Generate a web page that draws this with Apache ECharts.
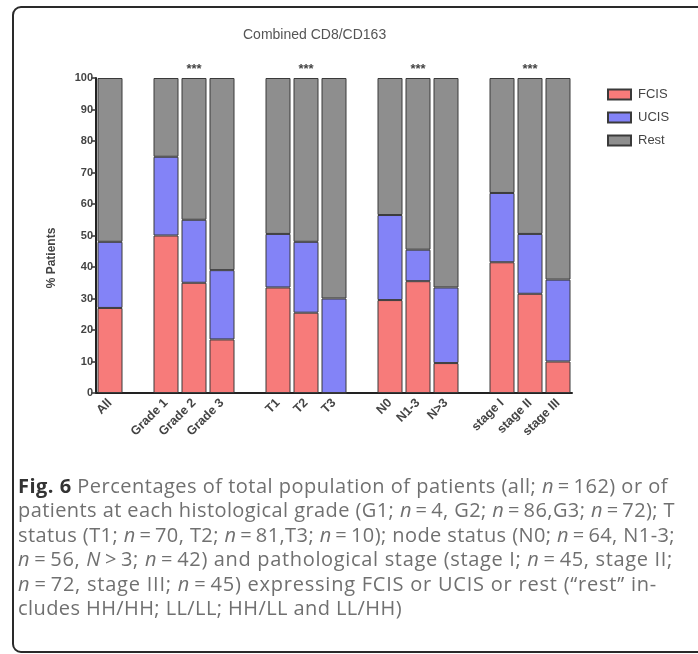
<!DOCTYPE html>
<html>
<head>
<meta charset="utf-8">
<script src="https://cdn.jsdelivr.net/npm/echarts@6/dist/echarts.min.js"></script>
<style>
  html, body { margin: 0; padding: 0; background: #fff; }
  #wrap { position: relative; width: 698px; height: 654px; overflow: hidden; background: #fff; }
  #frame { position: absolute; left: 12px; top: 6px; width: 760px; height: 647px; border: 2.5px solid #2a2a2a; border-radius: 9px; box-sizing: border-box; }
  #chart { position: absolute; left: 0; top: 0; width: 698px; height: 654px; }
  #caption { position: absolute; left: 18px; top: 474px; font-family: "Open Sans", sans-serif; font-size: 20px; color: #707070; }
  #caption div { height: 24.4px; line-height: 24.4px; white-space: nowrap; }
  #caption b { color: #333; }
</style>
</head>
<body>
<div id="wrap">
  <div id="frame"></div>
  <div id="chart"></div>
  <div id="caption">
    <div data-w="650"><b>Fig. 6</b> Percentages of total population of patients (all; <i>n</i>&#8201;=&#8201;162) or of</div>
    <div data-w="657">patients at each histological grade (G1; <i>n</i>&#8201;=&#8201;4, G2; <i>n</i>&#8201;=&#8201;86,G3; <i>n</i>&#8201;=&#8201;72); T</div>
    <div data-w="657">status (T1; <i>n</i>&#8201;=&#8201;70, T2; <i>n</i>&#8201;=&#8201;81,T3; <i>n</i>&#8201;=&#8201;10); node status (N0; <i>n</i>&#8201;=&#8201;64, N1-3;</div>
    <div data-w="655"><i>n</i>&#8201;=&#8201;56, <i>N</i>&#8201;&gt;&#8201;3; <i>n</i>&#8201;=&#8201;42) and pathological stage (stage I; <i>n</i>&#8201;=&#8201;45, stage II;</div>
    <div data-w="639"><i>n</i>&#8201;=&#8201;72, stage III; <i>n</i>&#8201;=&#8201;45) expressing FCIS or UCIS or rest (“rest” in-</div>
    <div data-w="384">cludes HH/HH; LL/LL; HH/LL and LL/HH)</div>
  </div>
</div>
<script>
const categories = ['All', '', 'Grade 1', 'Grade 2', 'Grade 3', '', 'T1', 'T2', 'T3', '', 'N0', 'N1-3', 'N>3', '', 'stage I', 'stage II', 'stage III'];
const fcis = [27, null, 50, 35, 17, null, 33.5, 25.5, 0, null, 29.5, 35.5, 9.5, null, 41.5, 31.5, 10];
const ucis = [21, null, 25, 20, 22, null, 17, 22.5, 30, null, 27, 10, 24, null, 22, 19, 26];
const rest = [52, null, 25, 45, 61, null, 49.5, 52, 70, null, 43.5, 54.5, 66.5, null, 36.5, 49.5, 64];
const stars = ['', '', '', '***', '', '', '', '***', '', '', '', '***', '', '', '', '***', ''];
const yTicks = { min: 0, max: 100, interval: 10 };

// fit caption lines to their measured widths in the reference
document.querySelectorAll('#caption div').forEach(d => {
  const target = +d.dataset.w;
  d.style.display = 'inline-block';
  const nat = d.getBoundingClientRect().width;
  const n = d.textContent.length;
  d.style.letterSpacing = ((target - nat) / n) + 'px';
  d.style.display = 'block';
});

const chart = echarts.init(document.getElementById('chart'), null, { renderer: 'canvas' });
const font = 'Liberation Sans, Arial, sans-serif';
const border = { borderColor: '#3a3a3a', borderWidth: 1 };

const restData = rest.map((v, i) => stars[i] ? {
  value: v,
  label: { show: true, position: 'top', distance: 2, formatter: stars[i], fontSize: 13, fontWeight: 'bold', color: '#444', fontFamily: font }
} : v);

chart.setOption({
  animation: false,
  title: {
    text: 'Combined CD8/CD163', left: 238, top: 23,
    textStyle: { fontSize: 14, fontWeight: 'normal', color: '#555', fontFamily: font }
  },
  legend: {
    orient: 'vertical', left: 607, top: 88, padding: 0, itemWidth: 23, itemHeight: 10, itemGap: 10,
    icon: 'rect',
    textStyle: { fontSize: 13, color: '#444', fontFamily: font, padding: [0, 0, 0, 2] },
    data: ['FCIS', 'UCIS', 'Rest']
  },
  grid: { left: 96, top: 78, width: 476, height: 315, containLabel: false },
  xAxis: {
    type: 'category', data: categories,
    axisLine: { lineStyle: { color: '#222', width: 2 } },
    axisTick: { alignWithLabel: true, interval: 0, length: 5, lineStyle: { color: '#333', width: 1.5 } },
    axisLabel: { interval: 0, rotate: 45, fontSize: 12.5, fontWeight: 'bold', color: '#444', fontFamily: font, margin: 8 }
  },
  yAxis: {
    type: 'value', min: yTicks.min, max: yTicks.max, interval: yTicks.interval,
    axisLine: { show: true, lineStyle: { color: '#222', width: 2 } },
    axisTick: { show: true, length: 5, lineStyle: { color: '#333', width: 1.5 } },
    axisLabel: { fontSize: 11, fontWeight: 'bold', color: '#444', fontFamily: font, margin: 3 },
    splitLine: { show: false }
  },
  graphic: [{
    type: 'text', x: 52, y: 258, rotation: Math.PI / 2,
    style: { text: '% Patients', font: 'bold 12px ' + font, fill: '#444', align: 'center', verticalAlign: 'middle' }
  }],
  series: [
    { name: 'FCIS', type: 'bar', stack: 's', barWidth: 25, data: fcis, itemStyle: Object.assign({ color: '#F77B7A' }, border) },
    { name: 'UCIS', type: 'bar', stack: 's', barWidth: 25, data: ucis, itemStyle: Object.assign({ color: '#8383F7' }, border) },
    { name: 'Rest', type: 'bar', stack: 's', barWidth: 25, data: restData, itemStyle: Object.assign({ color: '#8E8E8E' }, border) }
  ]
});
</script>
</body>
</html>
